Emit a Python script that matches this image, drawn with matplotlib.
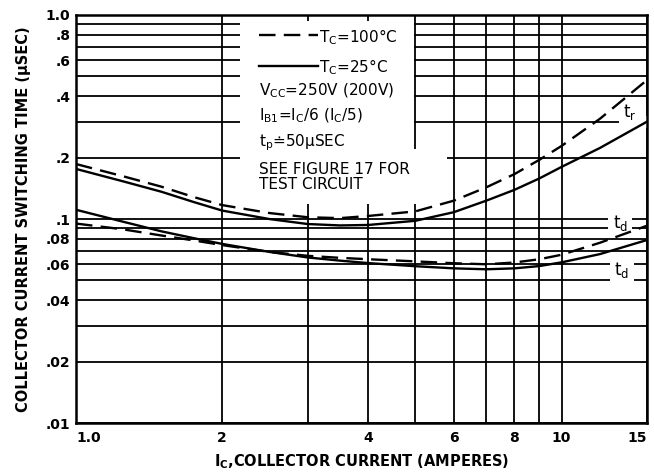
import matplotlib
matplotlib.use('Agg')
import matplotlib.pyplot as plt
from matplotlib.ticker import FixedLocator, FixedFormatter, NullFormatter

plt.rcParams['font.family'] = ['DejaVu Sans']
plt.rcParams['mathtext.default'] = 'regular'

# Ic (A) points where the curves were read
ic = [1.0, 1.25, 1.5, 1.75, 2.0, 2.5, 3.0, 3.5, 4.0, 5.0, 6.0, 7.0, 8.0, 9.0, 10.0, 12.0, 15.0]

# rise time t_r (usec)
tr_100 = [0.186, 0.162, 0.144, 0.128, 0.117, 0.107, 0.102, 0.101, 0.1035, 0.109, 0.123, 0.143,
          0.166, 0.195, 0.228, 0.31, 0.48]
tr_25 = [0.176, 0.153, 0.136, 0.121, 0.110, 0.100, 0.0945, 0.093, 0.0935, 0.098, 0.108, 0.123,
         0.139, 0.158, 0.180, 0.223, 0.300]

# delay time t_d (usec)
td_100 = [0.095, 0.089, 0.083, 0.0785, 0.0745, 0.069, 0.066, 0.0645, 0.0635, 0.062, 0.0607, 0.060,
          0.0612, 0.0635, 0.0668, 0.0765, 0.0927]
td_25 = [0.111, 0.097, 0.087, 0.0805, 0.0755, 0.069, 0.0648, 0.0625, 0.0608, 0.0587, 0.0573, 0.0567,
         0.0573, 0.0588, 0.0613, 0.0673, 0.0789]

x_ticks = [1, 2, 4, 6, 8, 10, 15]
x_labels = ['1.0', '2', '4', '6', '8', '10', '15']
x_minor = [3, 5, 7, 9]
y_ticks = [0.01, 0.02, 0.04, 0.06, 0.08, 0.1, 0.2, 0.4, 0.6, 0.8, 1.0]
y_labels = ['.01', '.02', '.04', '.06', '.08', '.1', '.2', '.4', '.6', '.8', '1.0']
y_minor = [0.03, 0.05, 0.07, 0.09, 0.3, 0.5, 0.7, 0.9]

fig = plt.figure(figsize=(6.54, 4.76), dpi=100)
ax = fig.add_axes([0.1162, 0.1113, 0.8731, 0.8572])
ax.set_xscale('log')
ax.set_yscale('log')
ax.set_xlim(1, 15)
ax.set_ylim(0.01, 1.0)

ax.xaxis.set_major_locator(FixedLocator(x_ticks))
ax.xaxis.set_major_formatter(FixedFormatter(x_labels))
ax.xaxis.set_minor_locator(FixedLocator(x_minor))
ax.xaxis.set_minor_formatter(NullFormatter())
ax.yaxis.set_major_locator(FixedLocator(y_ticks))
ax.yaxis.set_major_formatter(FixedFormatter(y_labels))
ax.yaxis.set_minor_locator(FixedLocator(y_minor))
ax.yaxis.set_minor_formatter(NullFormatter())
ax.tick_params(which='both', length=0)
ax.tick_params(axis='both', labelsize=10)
ax.tick_params(axis='x', pad=6)
ax.tick_params(axis='y', pad=4)
for lab in ax.get_xticklabels() + ax.get_yticklabels():
    lab.set_fontweight('bold')
xl = ax.get_xticklabels()
xl[0].set_horizontalalignment('left')
xl[-1].set_horizontalalignment('right')

ax.set_axisbelow(True)
ax.grid(True, which='both', color='black', lw=1.3)
for s in ax.spines.values():
    s.set_linewidth(1.8)

# white patch behind the notes (gridlines are cut out there)
ax.fill([2.18, 4.97, 4.97, 5.8, 5.8, 2.18], [0.93, 0.93, 0.22, 0.22, 0.119, 0.119],
        color='white', zorder=1, lw=0)
# and the gap in the .3 line next to t_r
ax.fill([13.2, 15, 15, 13.2], [0.28, 0.28, 0.32, 0.32], color='white', zorder=1, lw=0)

dash = (0, (7, 3.5))
ax.plot(ic, tr_100, color='black', lw=1.7, ls=dash, zorder=3)
ax.plot(ic, tr_25, color='black', lw=1.7, zorder=3)
ax.plot(ic, td_100, color='black', lw=1.7, ls=dash, zorder=3)
ax.plot(ic, td_25, color='black', lw=1.7, zorder=3)

# curve labels
box = dict(facecolor='white', edgecolor='none', pad=3)
ax.text(0.970, 0.762, 't$_r$', transform=ax.transAxes, fontsize=12, ha='center', va='center',
        bbox=box, zorder=2)
ax.text(0.953, 0.490, 't$_d$', transform=ax.transAxes, fontsize=12, ha='center', va='center',
        bbox=box, zorder=2)
ax.text(0.956, 0.375, 't$_d$', transform=ax.transAxes, fontsize=12, ha='center', va='center',
        bbox=box, zorder=2)

# notes
fs = 11
ax.plot([0.321, 0.424], [0.95, 0.95], transform=ax.transAxes, color='black', lw=1.7,
        ls=dash, zorder=3)
ax.text(0.425, 0.945, 'T$_C$=100°C', transform=ax.transAxes, fontsize=fs, va='center', zorder=3)
ax.plot([0.321, 0.424], [0.876, 0.876], transform=ax.transAxes, color='black', lw=1.7, zorder=3)
ax.text(0.425, 0.871, 'T$_C$=25°C', transform=ax.transAxes, fontsize=fs, va='center', zorder=3)
ax.text(0.321, 0.815, 'V$_{CC}$=250V (200V)', transform=ax.transAxes, fontsize=fs, va='center', zorder=3)
ax.text(0.321, 0.752, 'I$_{B1}$=I$_C$/6 (I$_C$/5)', transform=ax.transAxes, fontsize=fs, va='center', zorder=3)
ax.text(0.321, 0.687, 't$_p$≐50μSEC', transform=ax.transAxes, fontsize=fs, va='center', zorder=3)
ax.text(0.321, 0.603, 'SEE FIGURE 17 FOR\nTEST CIRCUIT', transform=ax.transAxes, fontsize=fs,
        va='center', linespacing=0.95, zorder=3)

ax.set_xlabel('I$_C$,COLLECTOR CURRENT (AMPERES)', fontsize=10.5, fontweight='bold', labelpad=5)
ax.set_ylabel('COLLECTOR CURRENT SWITCHING TIME (μSEC)', fontsize=10.5, fontweight='bold', labelpad=11)

fig.savefig('out.png', dpi=100)
